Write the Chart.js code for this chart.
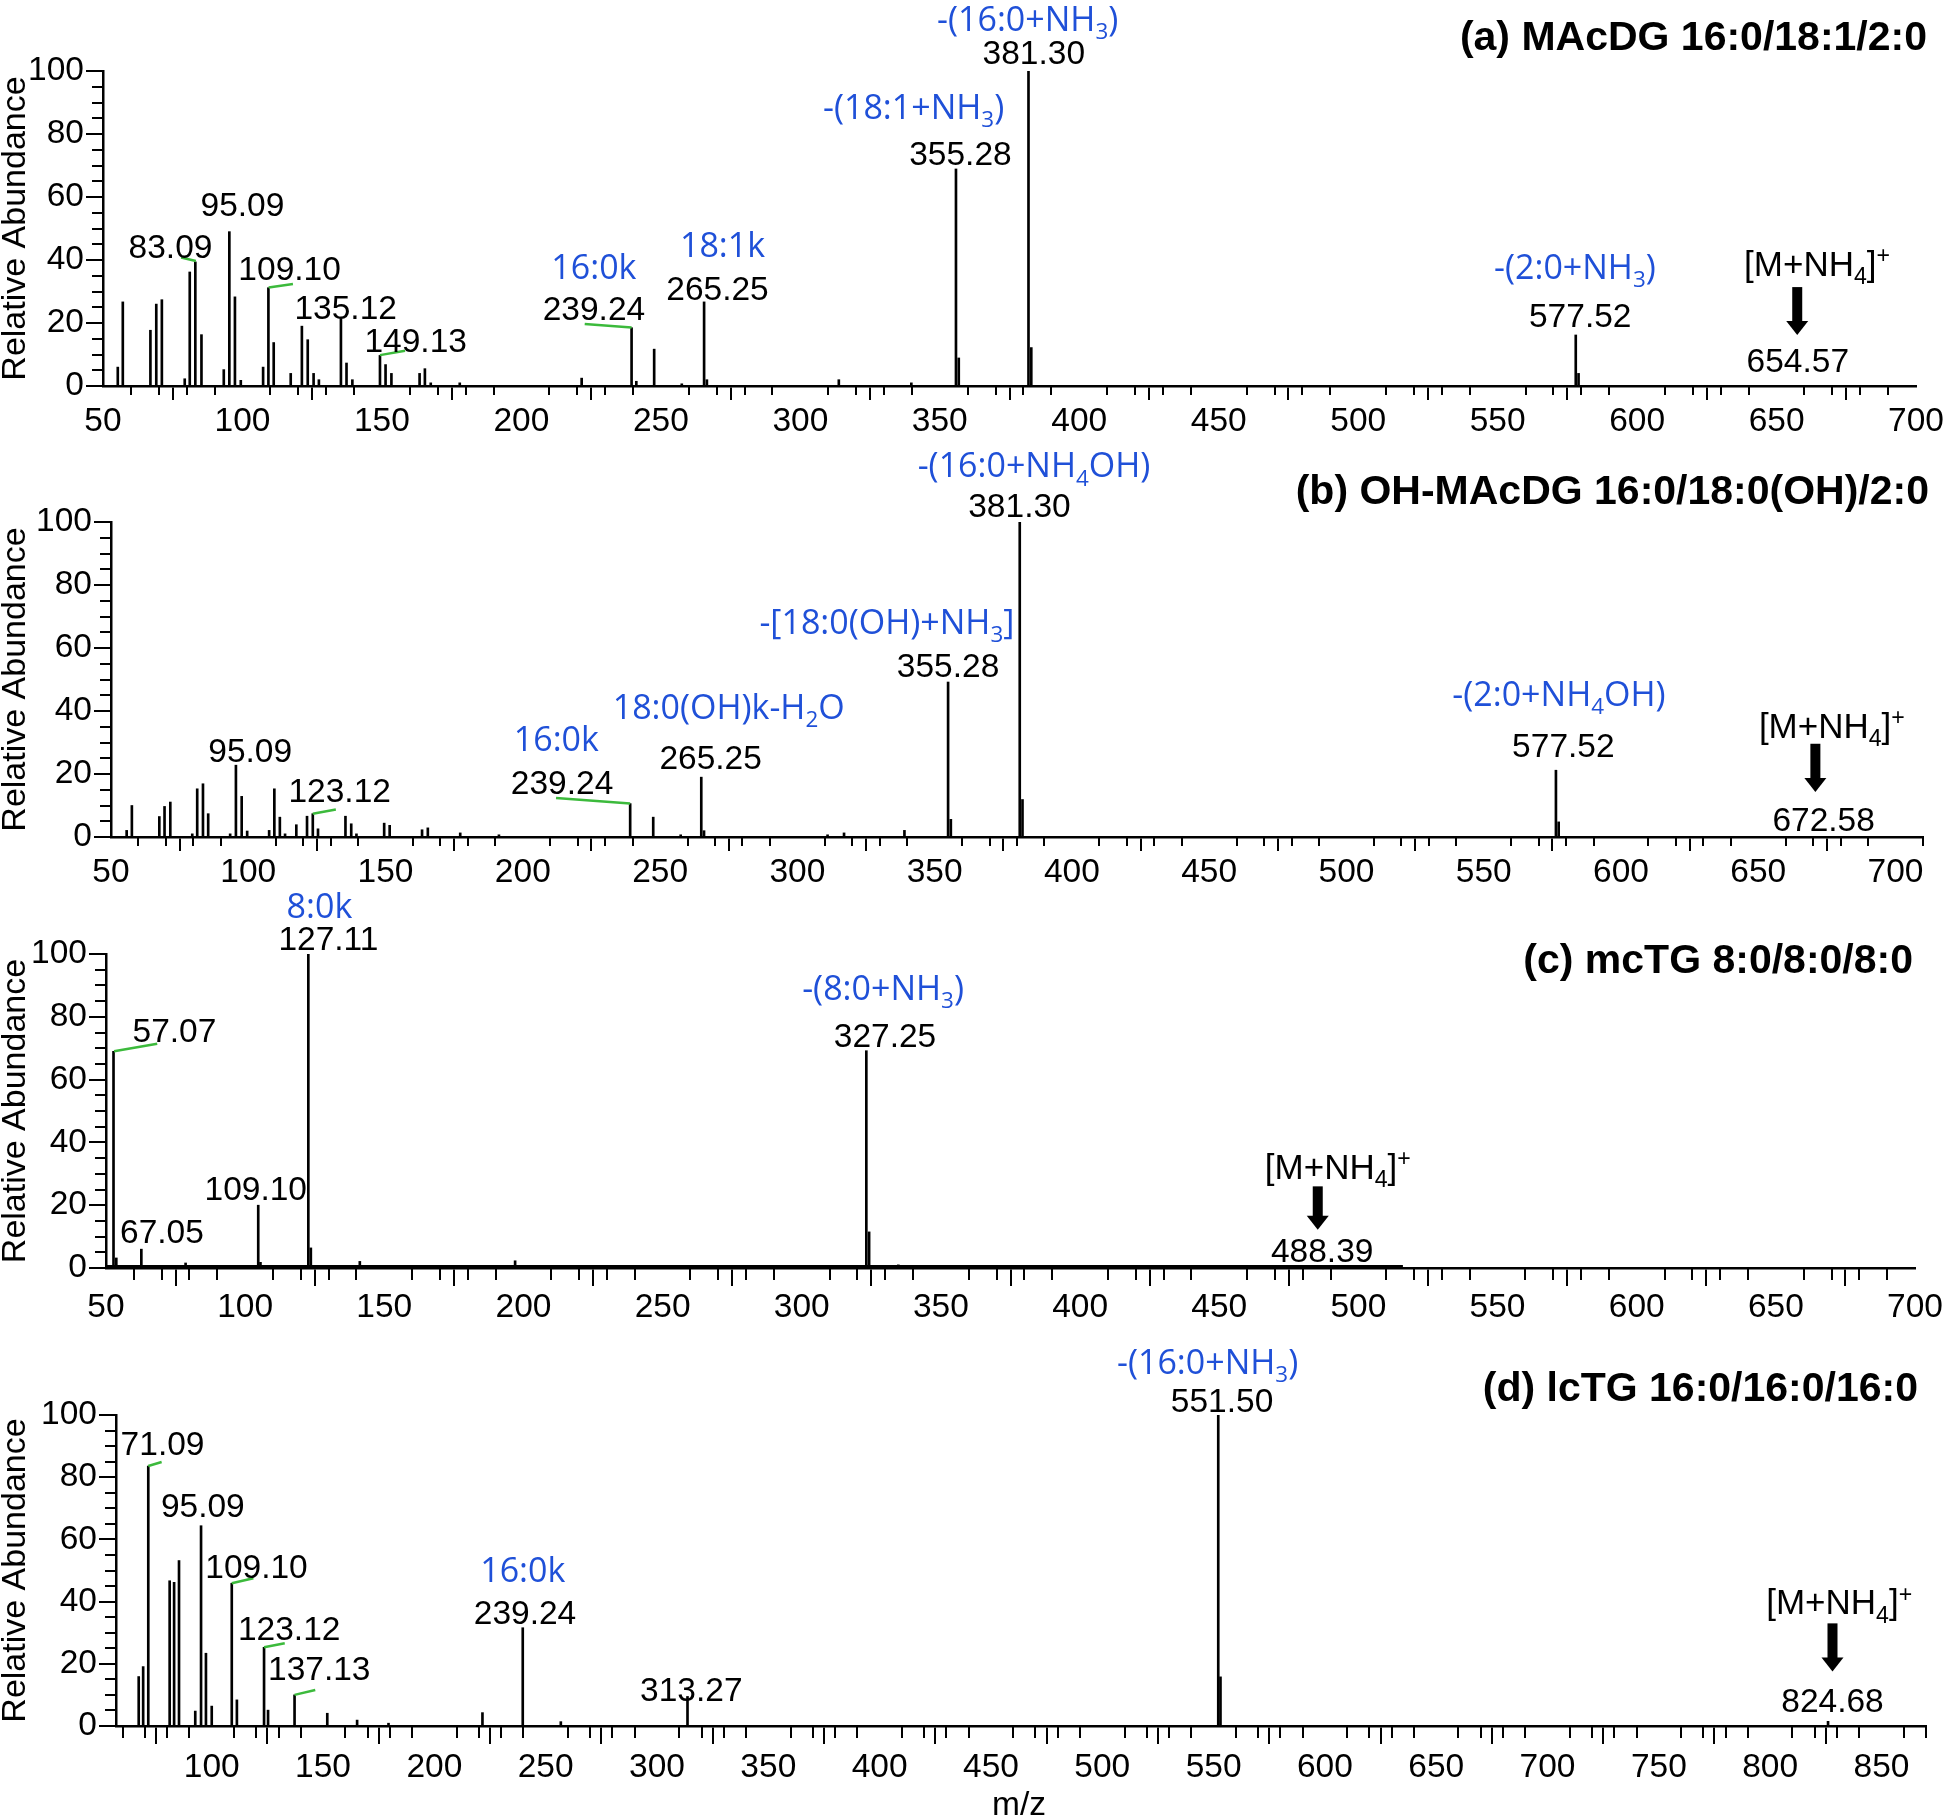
<!DOCTYPE html>
<html lang="en">
<head>
<meta charset="UTF-8">
<title>MS/MS spectra of MAcDG, OH-MAcDG, mcTG and lcTG</title>
<script src="https://cdn.jsdelivr.net/npm/chart.js"></script>
<style>
  body { margin: 0; background: #fff; }
  .figure { position: relative; width: 1946px; height: 1818px; background: #fff; }
  .figure canvas { position: absolute; left: 0; }
</style>
</head>
<body>
<div class="figure">
  <canvas id="panelA"></canvas>
  <canvas id="panelB"></canvas>
  <canvas id="panelC"></canvas>
  <canvas id="panelD"></canvas>
</div>
<script>
// ---- axis ticks ----
const mzTicks700 = [50, 100, 150, 200, 250, 300, 350, 400, 450, 500, 550, 600, 650, 700];
const mzTicks850 = [100, 150, 200, 250, 300, 350, 400, 450, 500, 550, 600, 650, 700, 750, 800, 850];
const abundanceTicks = [0, 20, 40, 60, 80, 100];

// ---- (a) MAcDG 16:0/18:1/2:0 : [m/z, relative abundance] ----
const peaksA = [
  [55.3, 6], [57.1, 26.7], [67.0, 17.7], [69.1, 26], [71.1, 27.4], [79.3, 2.3], [81.1, 36.2],
  [83.1, 39.4], [85.3, 16.3], [93.3, 5.2], [95.3, 49], [97.3, 28.3], [99.4, 1.8], [107.4, 6],
  [109.3, 31.2], [111.2, 13.8], [117.3, 4], [121.3, 19], [123.4, 14.7], [125.5, 4], [127.4, 2],
  [135.3, 21.4], [137.3, 7.3], [139.4, 2], [149.3, 9.7], [151.3, 6.8], [153.4, 4], [163.5, 4],
  [165.4, 5.5], [167.5, 1], [177.9, 1], [221.6, 2.5], [239.5, 18.5], [241.2, 1.5], [247.6, 11.7],
  [257.5, 0.7], [265.5, 26.7], [266.5, 2], [313.8, 2], [339.8, 1], [355.8, 68.9], [356.8, 8.9],
  [381.8, 100], [382.8, 12.2], [578.0, 16.2], [579.0, 4]
];
// [m/z, abundance, text, colour]  ('_' subscript, '^' superscript)
const labelsA = [
  [100.0, 57.8, '95.09', 'k'], [74.2, 44.5, '83.09', 'k'], [116.9, 37.5, '109.10', 'k'],
  [137.0, 25.1, '135.12', 'k'], [162.1, 14.6, '149.13', 'k'],
  [226.0, 37.8, '16:0k', 'b'], [226.0, 24.8, '239.24', 'k'],
  [272.1, 44.8, '18:1k', 'b'], [270.3, 31.2, '265.25', 'k'],
  [340.6, 88.7, '-(18:1+NH_3)', 'b'], [357.4, 73.9, '355.28', 'k'],
  [381.5, 116.7, '-(16:0+NH_3)', 'b'], [383.7, 106.1, '381.30', 'k'],
  [577.7, 37.9, '-(2:0+NH_3)', 'b'], [579.6, 22.5, '577.52', 'k'],
  [664.5, 39, '[M+NH_4]^+', 'm'], [657.6, 8.3, '654.57', 'k']
];
const leadersA = [[78.0, 40.8, 83.3, 39.7], [109.4, 31.3, 118.1, 32.4], [149.3, 9.8, 158.3, 11.2], [222.7, 19.7, 239.5, 18.6]];
const arrowA = [657.4, 31.4, 16.2];

// ---- (b) OH-MAcDG 16:0/18:0(OH)/2:0 ----
const peaksB = [
  [55.7, 2.1], [57.6, 10], [67.6, 6.5], [69.5, 9.7], [71.6, 11.1], [79.6, 1], [81.4, 15.3],
  [83.5, 16.9], [85.4, 7.4], [93.4, 1], [95.5, 22.8], [97.6, 12.9], [99.6, 1.9], [107.6, 2.1],
  [109.5, 15.3], [111.5, 6.3], [113.4, 1], [117.5, 3.9], [121.4, 6.6], [123.5, 7.4], [125.4, 2.6],
  [135.4, 6.6], [137.5, 4.2], [139.4, 1], [149.5, 4.4], [151.5, 3.7], [163.3, 2.3], [165.4, 2.9],
  [177.2, 1.3], [191.3, 0.7], [239.1, 10.6], [247.5, 6.3], [257.5, 0.7], [265.0, 19], [266.0, 2],
  [311.0, 0.7], [317.0, 1.3], [339.0, 2.1], [354.9, 49.2], [355.9, 5.6], [381.0, 100], [382.0, 11.9],
  [576.3, 21.2], [577.3, 4.8]
];
const labelsB = [
  [100.7, 27.5, '95.09', 'k'], [133.3, 14.8, '123.12', 'k'],
  [212.2, 31.2, '16:0k', 'b'], [214.3, 17.5, '239.24', 'k'],
  [275.0, 41.3, '18:0(OH)k-H_2O', 'b'], [268.4, 25.4, '265.25', 'k'],
  [332.6, 68.3, '-[18:0(OH)+NH_3]', 'b'], [354.9, 54.5, '355.28', 'k'],
  [386.2, 118, '-(16:0+NH_4OH)', 'b'], [380.9, 105.3, '381.30', 'k'],
  [577.4, 45.5, '-(2:0+NH_4OH)', 'b'], [579.0, 29.1, '577.52', 'k'],
  [676.8, 35.5, '[M+NH_4]^+', 'm'], [673.8, 5.8, '672.58', 'k']
];
const leadersB = [[123.5, 7.4, 131.9, 8.7], [212.1, 12.4, 239.1, 10.6]];
const arrowB = [670.8, 29.6, 14.3];

// ---- (c) mcTG 8:0/8:0/8:0 ----
const peaksC = [
  [52.7, 69], [53.7, 3.2], [62.7, 6], [78.6, 1.6], [104.7, 20], [105.5, 1.8], [122.7, 100],
  [123.6, 6.4], [141.2, 2.1], [197.0, 2.3], [323.2, 69.2], [324.2, 11.5], [334.7, 1]
];
const noiseC = [[50, 0.5], [516, 0.5]];
const labelsC = [
  [126.7, 115.2, '8:0k', 'b'], [129.9, 105.1, '127.11', 'k'],
  [74.6, 75.9, '57.07', 'k'], [70.1, 11.7, '67.05', 'k'], [103.8, 25.5, '109.10', 'k'],
  [329.2, 89.2, '-(8:0+NH_3)', 'b'], [329.9, 74.3, '327.25', 'k'],
  [492.6, 32.4, '[M+NH_4]^+', 'm'], [487.0, 5.8, '488.39', 'k']
];
const leadersC = [[52.9, 69, 68.4, 71.4]];
const arrowC = [485.4, 26, 12.2];

// ---- (d) lcTG 16:0/16:0/16:0 ----
const peaksD = [
  [67.2, 15.9], [69.2, 19.1], [71.5, 83.6], [81.1, 46.7], [83.1, 46.2], [85.3, 53.2], [92.6, 4.8],
  [95.2, 64.4], [97.4, 23.4], [100.0, 6.4], [109.0, 45.9], [111.3, 8.4], [123.5, 25.3], [125.3, 5.1],
  [137.2, 10], [151.9, 4.1], [165.3, 1.9], [179.4, 0.9], [221.6, 4.3], [239.7, 31.6], [256.8, 1.4],
  [313.7, 9.5], [552.1, 100], [553.1, 15.8], [826.0, 1.5]
];
const labelsD = [
  [77.9, 90.9, '71.09', 'k'], [96.0, 71.1, '95.09', 'k'], [120.1, 51.4, '109.10', 'k'],
  [134.8, 31.6, '123.12', 'k'], [148.3, 18.6, '137.13', 'k'],
  [239.7, 50.2, '16:0k', 'b'], [240.7, 36.8, '239.24', 'k'], [315.4, 11.9, '313.27', 'k'],
  [547.3, 117.1, '-(16:0+NH_3)', 'b'], [553.8, 104.8, '551.50', 'k'],
  [831.0, 40, '[M+NH_4]^+', 'm'], [828.0, 8.4, '824.68', 'k']
];
const leadersD = [[71.5, 83.6, 77.5, 84.9], [109.0, 45.9, 118.7, 47.5], [123.5, 25.3, 132.8, 26.6], [137.2, 10, 146.5, 11.6]];
const arrowD = [828.0, 33, 17.5];

const SANS = '"Liberation Sans", Arial, sans-serif';
const BLUE_FONT = '"Open Sans", "Noto Sans", sans-serif';
const BLUE = '#1f50d8';
const GREEN = '#3cba3c';

function richText(ctx, str, cx, cy, size, family, color, align, weight) {
  const parts = [];
  for (let i = 0; i < str.length; i++) {
    const c = str[i];
    if ((c === '_' || c === '^') && i + 1 < str.length) {
      parts.push({ t: str[i + 1], k: c });
      i++;
    } else if (parts.length && parts[parts.length - 1].k === '') {
      parts[parts.length - 1].t += c;
    } else {
      parts.push({ t: c, k: '' });
    }
  }
  const w8 = weight ? weight + ' ' : '';
  let total = 0;
  parts.forEach(p => {
    p.size = p.k ? size * 0.66 : size;
    ctx.font = w8 + p.size + 'px ' + family;
    p.w = ctx.measureText(p.t).width;
    total += p.w;
  });
  let x = align === 'right' ? cx - total : cx - total / 2;
  const base = cy + size * 0.358;
  ctx.fillStyle = color;
  ctx.textAlign = 'left';
  ctx.textBaseline = 'alphabetic';
  parts.forEach(p => {
    ctx.font = w8 + p.size + 'px ' + family;
    const dy = p.k === '_' ? size * 0.24 : (p.k === '^' ? -size * 0.36 : 0);
    ctx.fillText(p.t, x, base + dy);
    x += p.w;
  });
}

const decor = {
  id: 'decor',
  afterDraw(chart, args, o) {
    const ctx = chart.ctx;
    const xs = chart.scales.x, ys = chart.scales.y;
    const area = chart.chartArea;
    ctx.save();
    // minor ticks
    ctx.strokeStyle = '#000';
    ctx.lineWidth = 2;
    ctx.beginPath();
    for (let v = Math.ceil(xs.min / 10) * 10; v <= xs.max; v += 10) {
      if (v % 50 === 0) continue;
      const px = Math.round(xs.getPixelForValue(v));
      ctx.moveTo(px, area.bottom);
      ctx.lineTo(px, area.bottom + o.xMinor);
    }
    for (let v = 5; v < 100; v += 5) {
      if (v % 20 === 0) continue;
      const py = Math.round(ys.getPixelForValue(v));
      ctx.moveTo(area.left, py);
      ctx.lineTo(area.left - o.yMinor, py);
    }
    ctx.stroke();
    // green leader lines
    ctx.strokeStyle = GREEN;
    ctx.lineWidth = 2.5;
    o.leaders.forEach(l => {
      ctx.beginPath();
      ctx.moveTo(xs.getPixelForValue(l[0]), ys.getPixelForValue(l[1]));
      ctx.lineTo(xs.getPixelForValue(l[2]), ys.getPixelForValue(l[3]));
      ctx.stroke();
    });
    // precursor arrow
    const ax = xs.getPixelForValue(o.arrow[0]);
    const y1 = ys.getPixelForValue(o.arrow[1]);
    const y2 = ys.getPixelForValue(o.arrow[2]);
    const hl = 14;
    ctx.fillStyle = '#000';
    ctx.fillRect(ax - 5, y1, 10, y2 - y1 - hl + 1);
    ctx.beginPath();
    ctx.moveTo(ax - 11, y2 - hl);
    ctx.lineTo(ax + 11, y2 - hl);
    ctx.lineTo(ax, y2);
    ctx.closePath();
    ctx.fill();
    // peak annotations
    o.labels.forEach(l => {
      const px = xs.getPixelForValue(l[0]);
      const py = ys.getPixelForValue(l[1]);
      if (l[3] === 'b') richText(ctx, l[2], px, py, 34, BLUE_FONT, BLUE);
      else if (l[3] === 'm') richText(ctx, l[2], px, py, 35, SANS, '#000');
      else richText(ctx, l[2], px, py, 33.5, SANS, '#000');
    });
    // panel title
    richText(ctx, o.title[0], o.title[1], o.title[2], 41, SANS, '#000', 'right', 'bold');
    if (o.xTitle) richText(ctx, o.xTitle[0], o.xTitle[1], o.xTitle[2], 33.5, SANS, '#000');
    ctx.restore();
  }
};

function makePanel(id, p) {
  const canvas = document.getElementById(id);
  canvas.width = 1946;
  canvas.height = p.height;
  canvas.style.top = p.top + 'px';
  const datasets = [{
    type: 'bar',
    data: p.peaks.map(d => ({ x: d[0], y: d[1] })),
    backgroundColor: '#000',
    borderWidth: 0,
    barThickness: 2
  }];
  if (p.noise) {
    datasets.push({
      type: 'line',
      data: p.noise.map(d => ({ x: d[0], y: d[1] })),
      borderColor: '#000',
      borderWidth: 3,
      pointRadius: 0
    });
  }
  return new Chart(canvas, {
    type: 'bar',
    data: { datasets: datasets },
    options: {
      responsive: false,
      animation: false,
      devicePixelRatio: 1,
      layout: {
        autoPadding: false,
        padding: { top: p.area.top - p.top, right: 1946 - p.area.right, left: 0, bottom: 0 }
      },
      plugins: {
        legend: { display: false },
        tooltip: { enabled: false },
        decor: {
          labels: p.labels, leaders: p.leaders, arrow: p.arrow, title: p.title, xTitle: p.xTitle,
          xMinor: p.xMinor, yMinor: 11
        }
      },
      scales: {
        x: {
          type: 'linear',
          min: p.xMin,
          max: p.xMax,
          offset: false,
          afterBuildTicks: s => { s.ticks = p.xTicks.map(v => ({ value: v })); },
          afterFit: s => { s.height = p.height - (p.area.bottom - p.top); },
          grid: { drawOnChartArea: false, tickLength: p.xMajor, lineWidth: 2, color: '#000' },
          border: { color: '#000', width: 2.5 },
          ticks: { color: '#000', font: { family: SANS, size: 33.5 }, padding: p.xPad, maxRotation: 0, autoSkip: false }
        },
        y: {
          min: 0,
          max: 100,
          afterBuildTicks: s => { s.ticks = abundanceTicks.map(v => ({ value: v })); },
          afterFit: s => { s.width = p.area.left; },
          grid: { drawOnChartArea: false, tickLength: 17, lineWidth: 2, color: '#000' },
          border: { color: '#000', width: 2.5 },
          ticks: { color: '#000', font: { family: SANS, size: 33.5 }, padding: 2 },
          title: { display: true, text: 'Relative Abundance', color: '#000', font: { family: SANS, size: 34, lineHeight: 0.9 }, padding: 0 }
        }
      }
    },
    plugins: [decor]
  });
}

makePanel('panelA', {
  top: 0, height: 460, area: { left: 103, right: 1917, top: 71, bottom: 386 },
  xMin: 50, xMax: 700, xTicks: mzTicks700, xMajor: 14, xMinor: 9, xPad: 2,
  peaks: peaksA, labels: labelsA, leaders: leadersA, arrow: arrowA,
  title: ['(a) MAcDG 16:0/18:1/2:0', 1927, 35]
});
makePanel('panelB', {
  top: 440, height: 460, area: { left: 111, right: 1923, top: 522, bottom: 837 },
  xMin: 50, xMax: 710, xTicks: mzTicks700, xMajor: 14, xMinor: 9, xPad: 2,
  peaks: peaksB, labels: labelsB, leaders: leadersB, arrow: arrowB,
  title: ['(b) OH-MAcDG 16:0/18:0(OH)/2:0', 1929, 49]
});
makePanel('panelC', {
  top: 880, height: 440, area: { left: 106, right: 1915, top: 954, bottom: 1268 },
  xMin: 50, xMax: 700, xTicks: mzTicks700, xMajor: 18, xMinor: 12, xPad: 2,
  peaks: peaksC, noise: noiseC, labels: labelsC, leaders: leadersC, arrow: arrowC,
  title: ['(c) mcTG 8:0/8:0/8:0', 1913, 78]
});
makePanel('panelD', {
  top: 1330, height: 488, area: { left: 116, right: 1926, top: 1415, bottom: 1726 },
  xMin: 57, xMax: 870, xTicks: mzTicks850, xMajor: 18, xMinor: 12, xPad: 4,
  peaks: peaksD, labels: labelsD, leaders: leadersD, arrow: arrowD,
  title: ['(d) lcTG 16:0/16:0/16:0', 1918, 56],
  xTitle: ['m/z', 1019, 473]
});
</script>
</body>
</html>
